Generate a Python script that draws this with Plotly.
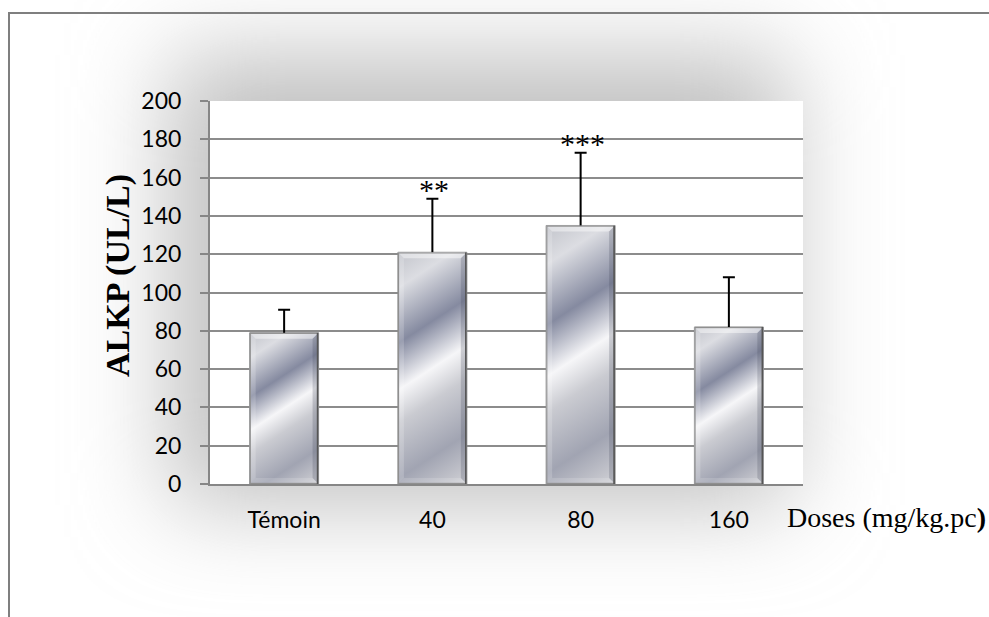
import base64
import plotly.graph_objects as go

# ---- data -------------------------------------------------------------
doses = ["Témoin", "40", "80", "160"]
alkp_mean = [79, 121, 135, 82]
alkp_sd = [12, 28, 38, 26]
signif = ["", "**", "***", ""]
y_ticks = [0, 20, 40, 60, 80, 100, 120, 140, 160, 180, 200]

# ---- figure geometry (pixels) ----------------------------------------
W, H = 989, 617
M_L, M_R, M_T, M_B = 210, 186, 101, 133
PW, PH = W - M_L - M_R, H - M_T - M_B
Y_MAX = 200
BAR_W = 0.465
pos = list(range(len(doses)))


def svg_uri(svg):
    return "data:image/svg+xml;base64," + base64.b64encode(svg.encode("utf-8")).decode()


def chrome_bar_svg(wp, hp):
    """Metallic bevelled fill for one bar, drawn in its own pixel space."""
    dx, dy = 0.545, 0.838
    L = dx * wp + dy * hp
    b = min(6.0, wp / 4, hp / 4)
    return f"""<svg xmlns='http://www.w3.org/2000/svg' width='{wp:.1f}' height='{hp:.1f}'
 viewBox='0 0 {wp:.2f} {hp:.2f}' preserveAspectRatio='none'>
<defs><linearGradient id='g' gradientUnits='userSpaceOnUse' x1='0' y1='0' x2='{dx*L:.2f}' y2='{dy*L:.2f}'>
<stop offset='0' stop-color='#c2c4cb'/>
<stop offset='0.13' stop-color='#dcdde2'/>
<stop offset='0.33' stop-color='#858aa0'/>
<stop offset='0.50' stop-color='#f6f6f8'/>
<stop offset='0.62' stop-color='#cacbd1'/>
<stop offset='0.82' stop-color='#a1a4b2'/>
<stop offset='0.95' stop-color='#c4c5cc'/>
<stop offset='1' stop-color='#d3d4d9'/>
</linearGradient></defs>
<rect x='0' y='0' width='{wp:.2f}' height='{hp:.2f}' fill='url(#g)'/>
<polygon points='0,0 {wp:.2f},0 {wp-b:.2f},{b:.2f} {b:.2f},{b:.2f}' fill='#ffffff' fill-opacity='0.45'/>
<polygon points='0,0 {b:.2f},{b:.2f} {b:.2f},{hp-b:.2f} 0,{hp:.2f}' fill='#ffffff' fill-opacity='0.18'/>
<polygon points='{wp:.2f},0 {wp:.2f},{hp:.2f} {wp-b:.2f},{hp-b:.2f} {wp-b:.2f},{b:.2f}' fill='#3a3f50' fill-opacity='0.22'/>
<polygon points='0,{hp:.2f} {wp:.2f},{hp:.2f} {wp-b:.2f},{hp-b:.2f} {b:.2f},{hp-b:.2f}' fill='#ffffff' fill-opacity='0.15'/>
<rect x='0.6' y='0.6' width='{wp-1.2:.2f}' height='{hp-1.2:.2f}' fill='none' stroke='#8f8f8f' stroke-width='1.2'/>
<line x1='{wp-1:.2f}' y1='0' x2='{wp-1:.2f}' y2='{hp:.2f}' stroke='#555555' stroke-width='1.6'/>
</svg>"""


# soft grey glow behind the plot area
shadow_svg = f"""<svg xmlns='http://www.w3.org/2000/svg' width='{W}' height='{H}' viewBox='0 0 {W} {H}'>
<defs><filter id='f' x='-50%' y='-50%' width='200%' height='200%'>
<feGaussianBlur stdDeviation='48'/></filter></defs>
<rect width='{W}' height='{H}' fill='#ffffff'/>
<rect x='170' y='55' width='620' height='450' fill='#c0c0c0' filter='url(#f)'/>
<rect x='{M_L}' y='{M_T}' width='{PW}' height='{PH}' fill='#ffffff'/>
</svg>"""

fig = go.Figure()

# error bars are symmetric; the lower half is hidden by the bar fill
fig.add_trace(go.Bar(
    x=pos,
    y=alkp_mean,
    width=BAR_W,
    marker=dict(color="#b9bbc3", line=dict(color="#8a8a8a", width=1)),
    error_y=dict(type="data", array=alkp_sd,
                 color="black", thickness=2, width=6),
    hoverinfo="skip",
    showlegend=False,
))

images = [dict(
    source=svg_uri(shadow_svg), xref="paper", yref="paper",
    x=-M_L / PW, y=1 + M_T / PH, sizex=W / PW, sizey=H / PH,
    xanchor="left", yanchor="top", sizing="stretch", layer="below",
)]

px_per_cat = PW / len(doses)
for p, v in zip(pos, alkp_mean):
    wp = BAR_W * px_per_cat
    hp = v * PH / Y_MAX
    images.append(dict(
        source=svg_uri(chrome_bar_svg(wp, hp)), xref="x", yref="y",
        x=p - BAR_W / 2, y=v, sizex=BAR_W, sizey=v,
        xanchor="left", yanchor="top", sizing="stretch", layer="above",
    ))

annotations = []
for p, v, e, s in zip(pos, alkp_mean, alkp_sd, signif):
    if s:
        annotations.append(dict(
            x=p, y=v + e, xref="x", yref="y", text=s, showarrow=False,
            yanchor="bottom", yshift=-9, xshift=2,
            font=dict(family="Liberation Serif", size=30, color="black"),
        ))

annotations.append(dict(
    x=(118 - M_L) / PW, y=(M_T + PH - 276) / PH, xref="paper", yref="paper",
    text="<b>ALKP (UL/L)</b>", textangle=-90, showarrow=False,
    xanchor="center", yanchor="middle",
    font=dict(family="Liberation Serif", size=34, color="black"),
))
annotations.append(dict(
    x=(785 - M_L) / PW, y=(M_T + PH - 517) / PH, xref="paper", yref="paper",
    text="Doses (mg/kg.pc<b>)</b>", showarrow=False,
    xanchor="left", yanchor="middle",
    font=dict(family="Liberation Serif", size=28, color="black"),
))

# outer chart frame (left and top edges)
fx = (9 - M_L) / PW
fy = (M_T + PH - 13) / PH
shapes = [dict(
    type="path", xref="paper", yref="paper",
    path=f"M {fx} {-(H - M_T - PH) / PH - 0.05} L {fx} {fy} L {(W - M_L) / PW + 0.05} {fy}",
    line=dict(color="#7f7f7f", width=2),
)]

fig.update_layout(
    width=W, height=H,
    margin=dict(l=M_L, r=M_R, t=M_T, b=M_B, autoexpand=False),
    paper_bgcolor="white", plot_bgcolor="white",
    images=images, annotations=annotations, shapes=shapes,
    xaxis=dict(
        range=[-0.5, len(doses) - 0.5],
        tickmode="array", tickvals=pos, ticktext=doses,
        showgrid=False, zeroline=False,
        showline=True, linecolor="#868686", linewidth=2,
        ticks="", ticklabelstandoff=14,
        tickfont=dict(family="Lato", size=23, color="black"),
        fixedrange=True,
    ),
    yaxis=dict(
        range=[0, Y_MAX], tickmode="array", tickvals=y_ticks,
        showgrid=True, gridcolor="#8c8c8c", gridwidth=2,
        zeroline=False,
        showline=True, linecolor="#868686", linewidth=2,
        ticks="outside", ticklen=8, tickcolor="#868686", tickwidth=2,
        ticklabelstandoff=14,
        tickfont=dict(family="Lato", size=23, color="black"),
        fixedrange=True,
    ),
)

fig.write_html("out.html")
